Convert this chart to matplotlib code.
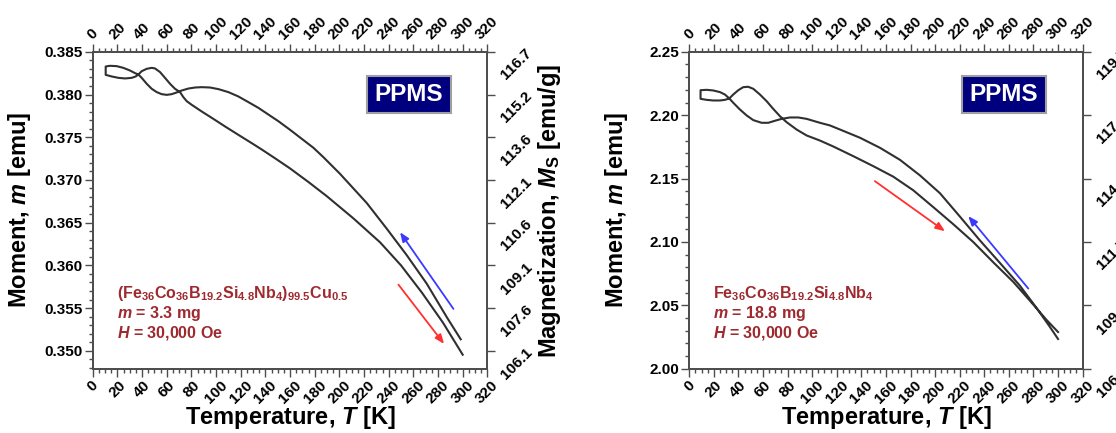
import numpy as np
import matplotlib
matplotlib.use('Agg')
import matplotlib.pyplot as plt
from matplotlib.ticker import MultipleLocator, FixedLocator, FixedFormatter, FormatStrFormatter
from matplotlib.patches import Rectangle

plt.rcParams['font.family'] = ['Liberation Sans', 'DejaVu Sans']
plt.rcParams['font.weight'] = 'bold'
plt.rcParams['axes.labelweight'] = 'bold'
plt.rcParams['mathtext.fontset'] = 'custom'
plt.rcParams['mathtext.rm'] = 'Liberation Sans:bold'
plt.rcParams['mathtext.bf'] = 'Liberation Sans:bold'
plt.rcParams['mathtext.it'] = 'Liberation Sans:italic:bold'

# sample A: (Fe36Co36B19.2Si4.8Nb4)99.5Cu0.5, cooling run then heating run
t_cool_a = [298.4, 287.1, 270.9, 254.6, 238.4, 222.2, 200.5, 187.0, 178.9, 160.0,
            150.5, 142.4, 134.3, 126.2, 118.1, 110.0, 101.9, 95.1, 88.4, 83.0,
            77.6, 72.2, 68.1, 64.0, 60.0, 55.9, 51.9, 47.8, 43.8, 39.7,
            37.0, 34.3, 30.2, 24.8, 19.4, 14.0, 10.5]
m_cool_a = [0.35135, 0.35394, 0.35785, 0.36120, 0.36430, 0.36730, 0.37072, 0.37267, 0.37377, 0.37587,
            0.37688, 0.37766, 0.37844, 0.37911, 0.37977, 0.38028, 0.38063, 0.38082, 0.38086, 0.38082,
            0.38070, 0.38047, 0.38024, 0.38004, 0.37996, 0.38004, 0.38028, 0.38067, 0.38125, 0.38195,
            0.38234, 0.38250, 0.38281, 0.38312, 0.38332, 0.38336, 0.38328]
t_heat_a = [10.5, 15.4, 20.8, 26.2, 31.6, 34.8, 37.0, 39.7, 43.8, 47.8,
            50.5, 54.6, 58.6, 62.7, 66.7, 70.8, 73.5, 76.2, 80.3, 88.4,
            96.5, 107.3, 118.1, 128.9, 137.0, 148.0, 160.0, 175.0, 189.8, 211.4,
            233.0, 250.0, 267.0, 284.0, 300.0]
m_heat_a = [0.38230, 0.38211, 0.38195, 0.38188, 0.38195, 0.38211, 0.38234, 0.38273, 0.38301, 0.38312,
            0.38305, 0.38262, 0.38195, 0.38125, 0.38067, 0.38028, 0.37969, 0.37922, 0.37879, 0.37801,
            0.37727, 0.37626, 0.37528, 0.37431, 0.37357, 0.37252, 0.37135, 0.36975, 0.36810, 0.36550,
            0.36270, 0.36000, 0.35680, 0.35330, 0.34955]

# sample B: Fe36Co36B19.2Si4.8Nb4
t_cool_b = [300.0, 293.4, 282.5, 269.0, 252.7, 236.5, 220.2, 203.9, 187.7, 171.4,
            155.1, 138.9, 122.6, 114.5, 106.3, 95.5, 88.7, 81.9, 75.2, 69.7,
            64.3, 58.9, 52.1, 46.7, 41.2, 35.8, 32.6, 29.0, 25.0, 19.5,
            14.1, 9.2]
m_cool_b = [2.0235, 2.0330, 2.0480, 2.0655, 2.0835, 2.1012, 2.1200, 2.1385, 2.1525, 2.1648,
            2.1743, 2.1822, 2.1887, 2.1919, 2.1940, 2.1971, 2.1982, 2.1982, 2.1971, 2.1956,
            2.1940, 2.1940, 2.1961, 2.1998, 2.2045, 2.2098, 2.2132, 2.2163, 2.2182, 2.2195,
            2.2200, 2.2197]
t_heat_b = [9.2, 14.1, 19.5, 25.0, 29.0, 32.6, 35.8, 39.9, 43.9, 48.0,
            52.1, 57.5, 62.9, 68.3, 73.8, 79.2, 87.3, 95.5, 106.3, 117.2,
            133.4, 149.7, 166.0, 182.2, 198.5, 214.8, 231.0, 247.3, 263.6, 277.1,
            290.7, 300.0]
m_heat_b = [2.2129, 2.2121, 2.2116, 2.2116, 2.2121, 2.2132, 2.2163, 2.2197, 2.2221, 2.2224,
            2.2208, 2.2163, 2.2111, 2.2050, 2.1992, 2.1945, 2.1887, 2.1840, 2.1800, 2.1753,
            2.1677, 2.1598, 2.1515, 2.1408, 2.1275, 2.1140, 2.1000, 2.0840, 2.0685, 2.0537,
            2.0385, 2.0290]

# direction arrows (start T, start m, end T, end m)
heat_arrow_a = [247.9, 0.35775, 284.9, 0.35081]
cool_arrow_a = [292.5, 0.35491, 249.2, 0.36388]
heat_arrow_b = [151.0, 2.1480, 208.0, 2.1085]
cool_arrow_b = [275.8, 2.0633, 227.0, 2.1204]

comp_a = r'(Fe$_{36}$Co$_{36}$B$_{19.2}$Si$_{4.8}$Nb$_{4}$)$_{99.5}$Cu$_{0.5}$'
comp_b = r'Fe$_{36}$Co$_{36}$B$_{19.2}$Si$_{4.8}$Nb$_{4}$'
mass_a = 3.3   # mg
mass_b = 18.8  # mg
field = '30,000'

ylim_a = (0.3479, 0.385)
ylim_b = (2.00, 2.25)
yticks_a = [0.350, 0.355, 0.360, 0.365, 0.370, 0.375, 0.380, 0.385]
yticks_b = [2.00, 2.05, 2.10, 2.15, 2.20, 2.25]

spine_col = '#4d4d4d'
curve_col = '#303030'
note_col = '#9e2a2f'
red = '#ff3030'
blue = '#3a3aff'


def panel(ax, t_cool, m_cool, t_heat, m_heat, ylim, yticks, yfmt, yminor,
          mass, comp, arr_heat, arr_cool):
    t_all = list(t_cool) + list(t_heat)
    m_all = list(m_cool) + list(m_heat)
    ax.plot(t_all, m_all, color=curve_col, lw=1.5, solid_joinstyle='round')

    ax.set_xlim(0, 320)
    ax.set_ylim(*ylim)
    ax.xaxis.set_major_locator(MultipleLocator(20))
    ax.xaxis.set_minor_locator(MultipleLocator(5))
    ax.set_yticks(yticks)
    ax.yaxis.set_major_formatter(FormatStrFormatter(yfmt))
    ax.yaxis.set_minor_locator(MultipleLocator(yminor))
    ax.tick_params(which='both', direction='out', color=spine_col, width=1.0,
                   top=True, right=False, labeltop=True, labelsize=11)
    ax.tick_params(which='major', length=6)
    ax.tick_params(which='minor', length=3)
    ax.tick_params(axis='x', labelrotation=45, pad=1)
    ax.tick_params(axis='y', pad=1.5)
    for s in ax.spines.values():
        s.set_color(spine_col)
        s.set_linewidth(1.3)

    ax.set_xlabel('Temperature, $T$ [K]', fontsize=17, fontweight='bold')
    ax.xaxis.set_label_coords(0.5, -0.112)
    ax.set_ylabel('Moment, $m$ [emu]', fontsize=17, fontweight='bold')
    ax.yaxis.set_label_coords(-0.151, 0.5)

    # right scale: specific magnetization, m / mass
    ax2 = ax.twinx()
    ax2.set_ylim(*ylim)
    ax2.yaxis.set_major_locator(FixedLocator(yticks))
    ax2.yaxis.set_major_formatter(FixedFormatter(['%.1f' % (v / mass * 1000) for v in yticks]))
    ax2.tick_params(axis='y', direction='out', length=6, width=1.0, color=spine_col,
                    labelrotation=45, labelsize=11, pad=2)
    for s in ax2.spines.values():
        s.set_color(spine_col)
        s.set_linewidth(1.3)
    ax2.set_ylabel(r'Magnetization, $M_\mathrm{S}$ [emu/g]', fontsize=17, fontweight='bold')
    ax2.yaxis.set_label_coords(1.1234, 0.5)

    ax.annotate('', xy=(arr_heat[2], arr_heat[3]), xytext=(arr_heat[0], arr_heat[1]),
                arrowprops=dict(arrowstyle='-|>,head_length=0.55,head_width=0.22',
                                color=red, lw=1.3, shrinkA=0, shrinkB=0))
    ax.annotate('', xy=(arr_cool[2], arr_cool[3]), xytext=(arr_cool[0], arr_cool[1]),
                arrowprops=dict(arrowstyle='-|>,head_length=0.55,head_width=0.22',
                                color=blue, lw=1.3, shrinkA=0, shrinkB=0))

    ax.text(0.061, 0.222, comp, transform=ax.transAxes, color=note_col, fontsize=11.5,
            va='baseline')
    ax.text(0.061, 0.161, '$m$ = %.1f mg' % mass, transform=ax.transAxes, color=note_col,
            fontsize=11.5, va='baseline')
    ax.text(0.061, 0.099, '$H$ = %s Oe' % field, transform=ax.transAxes, color=note_col,
            fontsize=11.5, va='baseline')

    ax2.add_patch(Rectangle((0.694, 0.8075), 0.213, 0.117, transform=ax.transAxes,
                            facecolor='#00007f', edgecolor='#a0a0a0', lw=1.5, zorder=5))
    ax2.text(0.80, 0.866, 'PPMS', transform=ax.transAxes, color='white', fontsize=17.5,
             ha='center', va='center', zorder=6)


fig = plt.figure(figsize=(11.16, 4.33), dpi=100)
ax_a = fig.add_axes([0.0831, 0.1483, 0.3536, 0.7321])
ax_b = fig.add_axes([0.6176, 0.1483, 0.3525, 0.7321])

panel(ax_a, t_cool_a, m_cool_a, t_heat_a, m_heat_a, ylim_a, yticks_a, '%.3f', 0.001,
      mass_a, comp_a, heat_arrow_a, cool_arrow_a)
panel(ax_b, t_cool_b, m_cool_b, t_heat_b, m_heat_b, ylim_b, yticks_b, '%.2f', 0.01,
      mass_b, comp_b, heat_arrow_b, cool_arrow_b)

fig.savefig('out.png', dpi=100)
